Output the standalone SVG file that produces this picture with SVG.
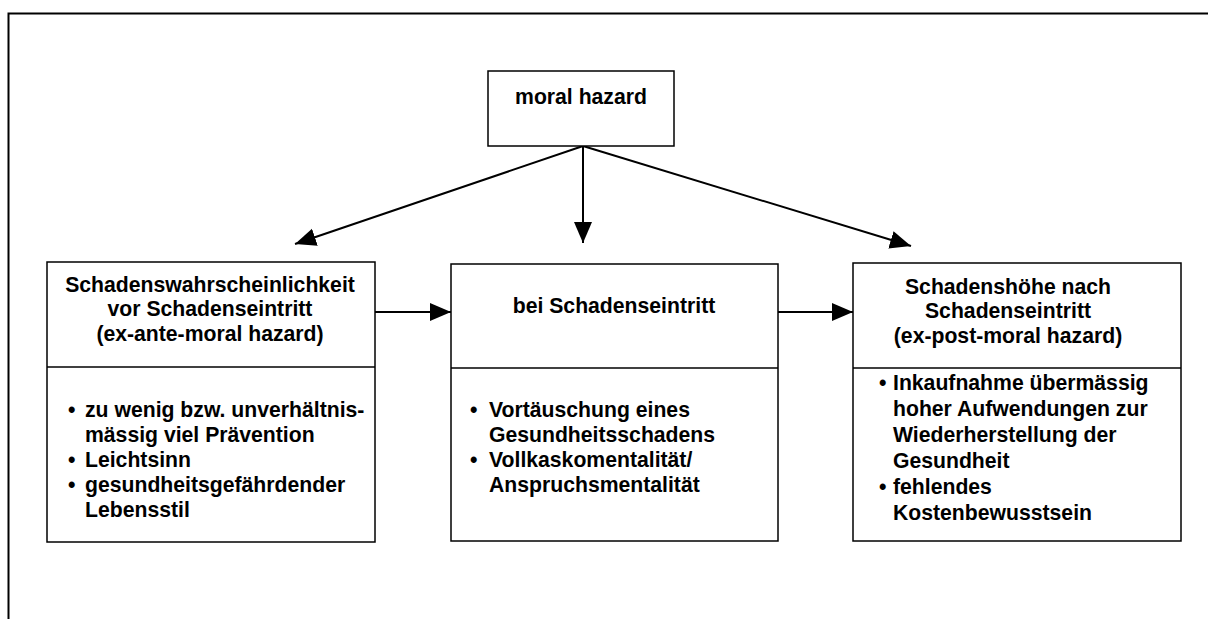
<svg xmlns="http://www.w3.org/2000/svg" width="1208" height="619" viewBox="0 0 1208 619">
<style>
.box{fill:#fff;stroke:#000;stroke-width:1.5}
.t{font-family:"Liberation Sans",Arial,sans-serif;font-weight:bold;font-size:21.2px;fill:#000}
.c{text-anchor:middle}
.ln{stroke:#000;stroke-width:2;fill:none}
</style>
<defs>
<marker id="ah" markerUnits="userSpaceOnUse" markerWidth="22" markerHeight="20" refX="21" refY="10" orient="auto">
<path d="M0,1 L21,10 L0,19 z" fill="#000"/>
</marker>
</defs>
<g id="frame">
<path d="M8.5,619 L8.5,13.5 L1208,13.5" class="ln"/>
</g>
<g id="connectors">
<line x1="583" y1="146" x2="295" y2="244" class="ln" marker-end="url(#ah)"/>
<line x1="583" y1="146" x2="583" y2="243" class="ln" marker-end="url(#ah)"/>
<line x1="583" y1="146" x2="911" y2="246" class="ln" marker-end="url(#ah)"/>
<line x1="375" y1="312" x2="451" y2="312" class="ln" marker-end="url(#ah)"/>
<line x1="778" y1="312" x2="853" y2="312" class="ln" marker-end="url(#ah)"/>
</g>
<g id="moral-hazard">
<rect x="488" y="71" width="186" height="75" class="box"/>
<text x="581" y="104" class="t c">moral hazard</text>
</g>
<g id="ex-ante">
<rect x="47" y="262" width="328" height="280" class="box"/>
<line x1="47" y1="367" x2="375" y2="367" class="box"/>
<text class="t c" x="210" y="292">Schadenswahrscheinlichkeit</text>
<text class="t c" x="210" y="316">vor Schadenseintritt</text>
<text class="t c" x="210" y="341">(ex-ante-moral hazard)</text>
<text class="t" x="68" y="416.5">•</text>
<text class="t" x="85" y="416.5">zu wenig bzw. unverhältnis-</text>
<text class="t" x="85" y="441.5">mässig viel Prävention</text>
<text class="t" x="68" y="466.5">•</text>
<text class="t" x="85" y="466.5">Leichtsinn</text>
<text class="t" x="68" y="491.5">•</text>
<text class="t" x="85" y="491.5">gesundheitsgefährdender</text>
<text class="t" x="85" y="516.5">Lebensstil</text>
</g>
<g id="bei-schadenseintritt">
<rect x="451" y="264" width="327" height="277" class="box"/>
<line x1="451" y1="368" x2="778" y2="368" class="box"/>
<text class="t c" x="614" y="313">bei Schadenseintritt</text>
<text class="t" x="470" y="417">•</text>
<text class="t" x="489" y="417">Vortäuschung eines</text>
<text class="t" x="489" y="442">Gesundheitsschadens</text>
<text class="t" x="470" y="467">•</text>
<text class="t" x="489" y="467">Vollkaskomentalität/</text>
<text class="t" x="489" y="492">Anspruchsmentalität</text>
</g>
<g id="ex-post">
<rect x="853" y="263" width="328" height="278" class="box"/>
<line x1="853" y1="368" x2="1181" y2="368" class="box"/>
<text class="t c" x="1008" y="294">Schadenshöhe nach</text>
<text class="t c" x="1008" y="318">Schadenseintritt</text>
<text class="t c" x="1008" y="343">(ex-post-moral hazard)</text>
<text class="t" x="879" y="389.5">•</text>
<text class="t" x="893" y="389.5">Inkaufnahme übermässig</text>
<text class="t" x="893" y="415.5">hoher Aufwendungen zur</text>
<text class="t" x="893" y="441.5">Wiederherstellung der</text>
<text class="t" x="893" y="467.5">Gesundheit</text>
<text class="t" x="879" y="493.5">•</text>
<text class="t" x="893" y="493.5">fehlendes</text>
<text class="t" x="893" y="519.5">Kostenbewusstsein</text>
</g>
</svg>
